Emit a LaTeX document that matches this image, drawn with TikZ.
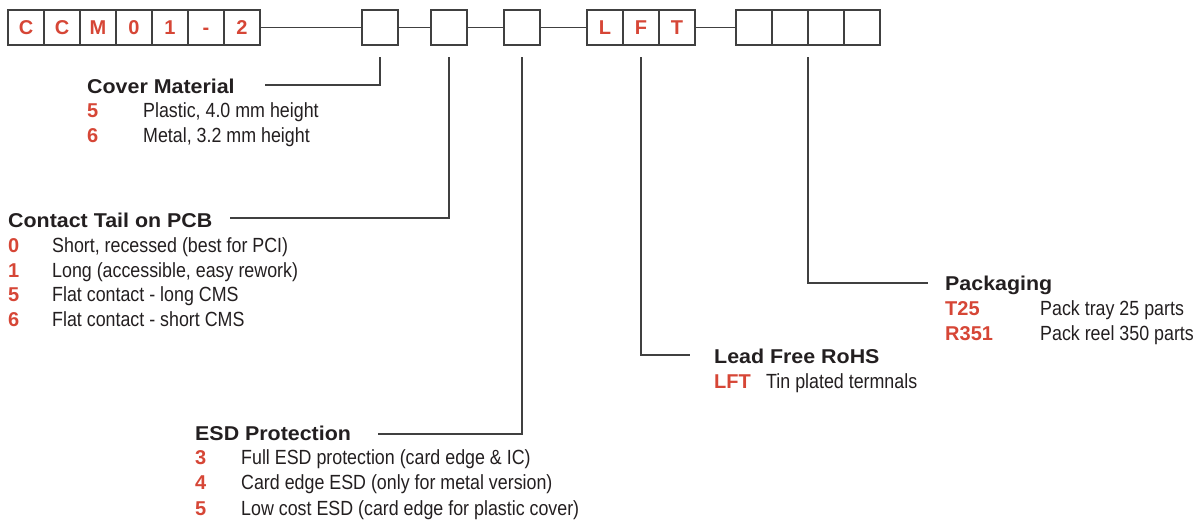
\documentclass[tikz,border=0pt]{standalone}
\usepackage{fontspec}
\setmainfont{Liberation Sans}
\newfontfamily\headfont[FakeStretch=1.07]{Liberation Sans}
\newfontfamily\bodyfont[FakeStretch=0.87]{Liberation Sans}
\definecolor{CodeRed}{RGB}{214, 70, 54}
\definecolor{LineGray}{RGB}{64, 64, 64}
\definecolor{TextDark}{RGB}{35, 31, 32}
\usetikzlibrary{positioning}

\begin{document}
\begin{tikzpicture}[x=1pt, y=-1pt,
  cell/.style={rectangle, draw=LineGray, line width=1.4pt, minimum width=36pt, minimum height=35pt, inner sep=0pt, outer sep=0pt, text height=14.5pt, text depth=0pt, text=CodeRed, font=\fontsize{20}{20}\selectfont\bfseries},
  title/.style={anchor=base west, inner sep=0pt, text=TextDark, font=\headfont\fontsize{20}{24}\selectfont\bfseries},
  code/.style={anchor=base west, inner sep=0pt, text=CodeRed, font=\fontsize{20}{24}\selectfont\bfseries},
  desc/.style={anchor=base west, inner sep=0pt, text=TextDark, font=\bodyfont\fontsize{20.5}{24}\selectfont},
  leader/.style={draw=LineGray, line width=1.3pt}]
\useasboundingbox (0,0) rectangle (1204,520);
% part number boxes
\node[cell] (c1) at (26,27.5) {C};
\node[cell, right=0pt of c1] (c2) {C};
\node[cell, right=0pt of c2] (c3) {M};
\node[cell, right=0pt of c3] (c4) {0};
\node[cell, right=0pt of c4] (c5) {1};
\node[cell, right=0pt of c5] (c6) {-};
\node[cell, right=0pt of c6] (c7) {2};
\node[cell, right=102pt of c7] (cover) {};
\node[cell, right=33pt of cover] (tail) {};
\node[cell, right=37pt of tail] (esd) {};
\node[cell, right=47pt of esd] (l1) {L};
\node[cell, right=0pt of l1] (l2) {F};
\node[cell, right=0pt of l2] (l3) {T};
\node[cell, right=41pt of l3] (p1) {};
\node[cell, right=0pt of p1] (p2) {};
\node[cell, right=0pt of p2] (p3) {};
\node[cell, right=0pt of p3] (p4) {};
\draw[leader] (c7) -- (cover);
\draw[leader] (cover) -- (tail);
\draw[leader] (tail) -- (esd);
\draw[leader] (esd) -- (l1);
\draw[leader] (l3) -- (p1);
% cover material
\node[title] (covertitle) at (87,93.3) {Cover Material};
\node[code] (cover5) at (87,117.5) {5};
\node[desc] (cover5d) at (143,117.5) {Plastic, 4.0 mm height};
\node[code] (cover6) at (87,142) {6};
\node[desc] (cover6d) at (143,142) {Metal, 3.2 mm height};
\coordinate (coverend) at (265,85);
\draw[leader] ([yshift=-12pt]cover.south) |- (coverend);
% contact tail
\node[title] (tailtitle) at (8,227) {Contact Tail on PCB};
\node[code] (tail0) at (8,252) {0};
\node[desc] (tail0d) at (52,252) {Short, recessed (best for PCI)};
\node[code] (tail1) at (8,277) {1};
\node[desc] (tail1d) at (52,277) {Long (accessible, easy rework)};
\node[code] (tail5) at (8,301.5) {5};
\node[desc] (tail5d) at (52,301.5) {Flat contact - long CMS};
\node[code] (tail6) at (8,326) {6};
\node[desc] (tail6d) at (52,326) {Flat contact - short CMS};
\coordinate (tailend) at (230,218);
\draw[leader] ([yshift=-12pt]tail.south) |- (tailend);
% esd protection
\node[title] (esdtitle) at (195,440.7) {ESD Protection};
\node[code] (esd3) at (195,464) {3};
\node[desc] (esd3d) at (241,464) {Full ESD protection (card edge \& IC)};
\node[code] (esd4) at (195,489.5) {4};
\node[desc] (esd4d) at (241,489.5) {Card edge ESD (only for metal version)};
\node[code] (esd5) at (195,515) {5};
\node[desc] (esd5d) at (241,515) {Low cost ESD (card edge for plastic cover)};
\coordinate (esdend) at (378,434);
\draw[leader] ([yshift=-12pt]esd.south) |- (esdend);
% lead free
\node[title] (lfttitle) at (714,363) {Lead Free RoHS};
\node[code] (lftcode) at (714,388) {LFT};
\node[desc] (lftd) at (766,388) {Tin plated termnals};
\coordinate (lftend) at (690,355);
\draw[leader] ([yshift=-12pt]l2.south) |- (lftend);
% packaging
\node[title] (packtitle) at (945,290) {Packaging};
\node[code] (packt) at (945,315) {T25};
\node[desc] (packtd) at (1040,315) {Pack tray 25 parts};
\node[code] (packr) at (945,340) {R351};
\node[desc] (packrd) at (1040,340) {Pack reel 350 parts};
\coordinate (packend) at (928,283);
\draw[leader] ([yshift=-12pt]p2.south east) |- (packend);
\end{tikzpicture}
\end{document}
